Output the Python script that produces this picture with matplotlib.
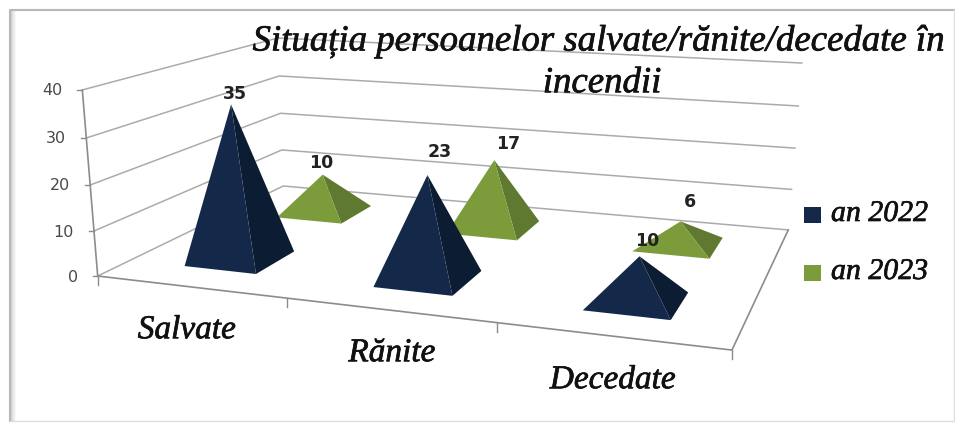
import numpy as np
import matplotlib
matplotlib.use("Agg")
import matplotlib.pyplot as plt
from matplotlib.patches import Polygon, Rectangle
import matplotlib.patheffects as pe

categories = ["Salvate", "Rănite", "Decedate"]
series_names = ["an 2022", "an 2023"]
values_2022 = [35, 23, 10]
values_2023 = [10, 17, 6]
y_ticks = [0, 10, 20, 30, 40]
title_lines = ["Situația persoanelor salvate/rănite/decedate în", "incendii"]

W, H = 955, 423
fig = plt.figure(figsize=(W / 100, H / 100), dpi=100, facecolor="white")
ax = fig.add_axes([0, 0, 1, 1])
ax.set_xlim(0, W)
ax.set_ylim(H, 0)
ax.axis("off")

# Perspective camera, solved from where the plot box's corners sit in the canvas
# (category position, depth 0..1, value) -> canvas
box = [((0, 0, 0), (97, 276)), ((0, 0, 40), (83, 90)), ((3, 0, 0), (732, 350)),
       ((3, 1, 0), (788, 230)), ((3, 1, 40), (802, 63)), ((0, 1, 0), (284, 186)),
       ((0, 1, 40), (277, 38))]
A, b = [], []
for (x, y, z), (u, v) in box:
    A.append([x, y, z, 1, 0, 0, 0, 0, -u * x, -u * y, -u * z]); b.append(u)
    A.append([0, 0, 0, 0, x, y, z, 1, -v * x, -v * y, -v * z]); b.append(v)
P = np.append(np.linalg.lstsq(np.array(A, float), np.array(b, float), rcond=None)[0], 1).reshape(3, 4)


def proj(x, y, z):
    u, v, w = P @ np.array([x, y, z, 1.0])
    return u / w, v / w


GRID = "#ababab"
AXIS = "#8c8c8c"
for t in y_ticks:
    pts = [proj(0, 0, t), proj(0, 1, t), proj(3, 1, t)]
    ax.plot(*zip(*pts), color=GRID, lw=1.1, zorder=1, solid_joinstyle="miter")
    x0, y0 = proj(0, 0, t)
    ax.plot([x0 - 5, x0], [y0, y0], color=AXIS, lw=1.0, zorder=1)
    ax.text(x0 - 20, y0 + 1, str(t), ha="right", va="center", fontsize=11.5, color="#4a4a4a")
ax.plot(*zip(proj(0, 0, 0), proj(3, 0, 0), proj(3, 1, 0)), color=AXIS, lw=1.2, zorder=1)
ax.plot(*zip(proj(0, 0, 0), proj(0, 0, 40)), color=AXIS, lw=1.2, zorder=1)
for i in range(4):
    x0, y0 = proj(i, 0, 0)
    ax.plot([x0, x0], [y0, y0 + 9], color=AXIS, lw=1.0, zorder=1)

HALF_W = 0.195
HALF_D = 0.105
APEX_LEAN_X = 0.012
APEX_LEAN_D = 0.02
depths = {0: 0.25, 1: 0.755}
front_cols = ["#14294a", "#7c9c3c"]
side_cols = ["#0c1d33", "#5f7a30"]
label_offsets = {0: [(4, -10), (12, -23), (8, -15)], 1: [(-1, -12), (14, -16), (9, -19)]}
val_sets = [values_2022, values_2023]

for s in (1, 0):
    yc = depths[s]
    for i, val in enumerate(val_sets[s]):
        xc = i + 0.5
        fl = proj(xc - HALF_W, yc - HALF_D, 0)
        fr = proj(xc + HALF_W, yc - HALF_D, 0)
        br = proj(xc + HALF_W, yc + HALF_D, 0)
        apex = proj(xc + APEX_LEAN_X, yc - APEX_LEAN_D, val)
        z = 5 - s + i * 0.01
        ax.add_patch(Polygon([fr, br, apex], closed=True, fc=side_cols[s], ec="none", zorder=z))
        ax.add_patch(Polygon([fl, fr, apex], closed=True, fc=front_cols[s], ec="none", zorder=z))
        dx, dy = label_offsets[s][i]
        ax.text(apex[0] + dx, apex[1] + dy, str(val), ha="center", va="center",
                fontsize=12.5, fontweight="bold", color="#222222", zorder=8)

SCRIPT = dict(family="Liberation Serif", style="italic", color="#111111",
              path_effects=[pe.withStroke(linewidth=0.5, foreground="#111111")])
ax.text(598, 41, title_lines[0], ha="center", va="center", fontsize=26.5, zorder=9, **SCRIPT)
ax.text(602, 83, title_lines[1], ha="center", va="center", fontsize=26.5, zorder=9, **SCRIPT)

cat_pos = [(187, 330), (392, 353), (613, 380)]
for name, (cx, cy) in zip(categories, cat_pos):
    ax.text(cx, cy, name, ha="center", va="center", fontsize=24, zorder=9, **SCRIPT)

for name, col, ly in zip(series_names, front_cols, (215, 273)):
    ax.add_patch(Rectangle((804, ly - 8), 17, 16, fc=col, ec="none", zorder=9))
    ax.text(831, ly - 1, name, ha="left", va="center", fontsize=21.5, zorder=9, **SCRIPT)

# Chart frame
ax.plot([10, 10, 954], [421, 10, 10], color="#b8b8b8", lw=1.5, zorder=0)
ax.plot([10, 954, 954], [421, 421, 10], color="#dedede", lw=1.0, zorder=0)
for k, a in enumerate((0.8, 0.6, 0.4, 0.25, 0.12)):
    ax.add_patch(Rectangle((11 + k, 11), 1.2, 410, fc="#c8c8c8", ec="none", alpha=a, zorder=0))

fig.savefig("out.png", dpi=100, facecolor="white")
